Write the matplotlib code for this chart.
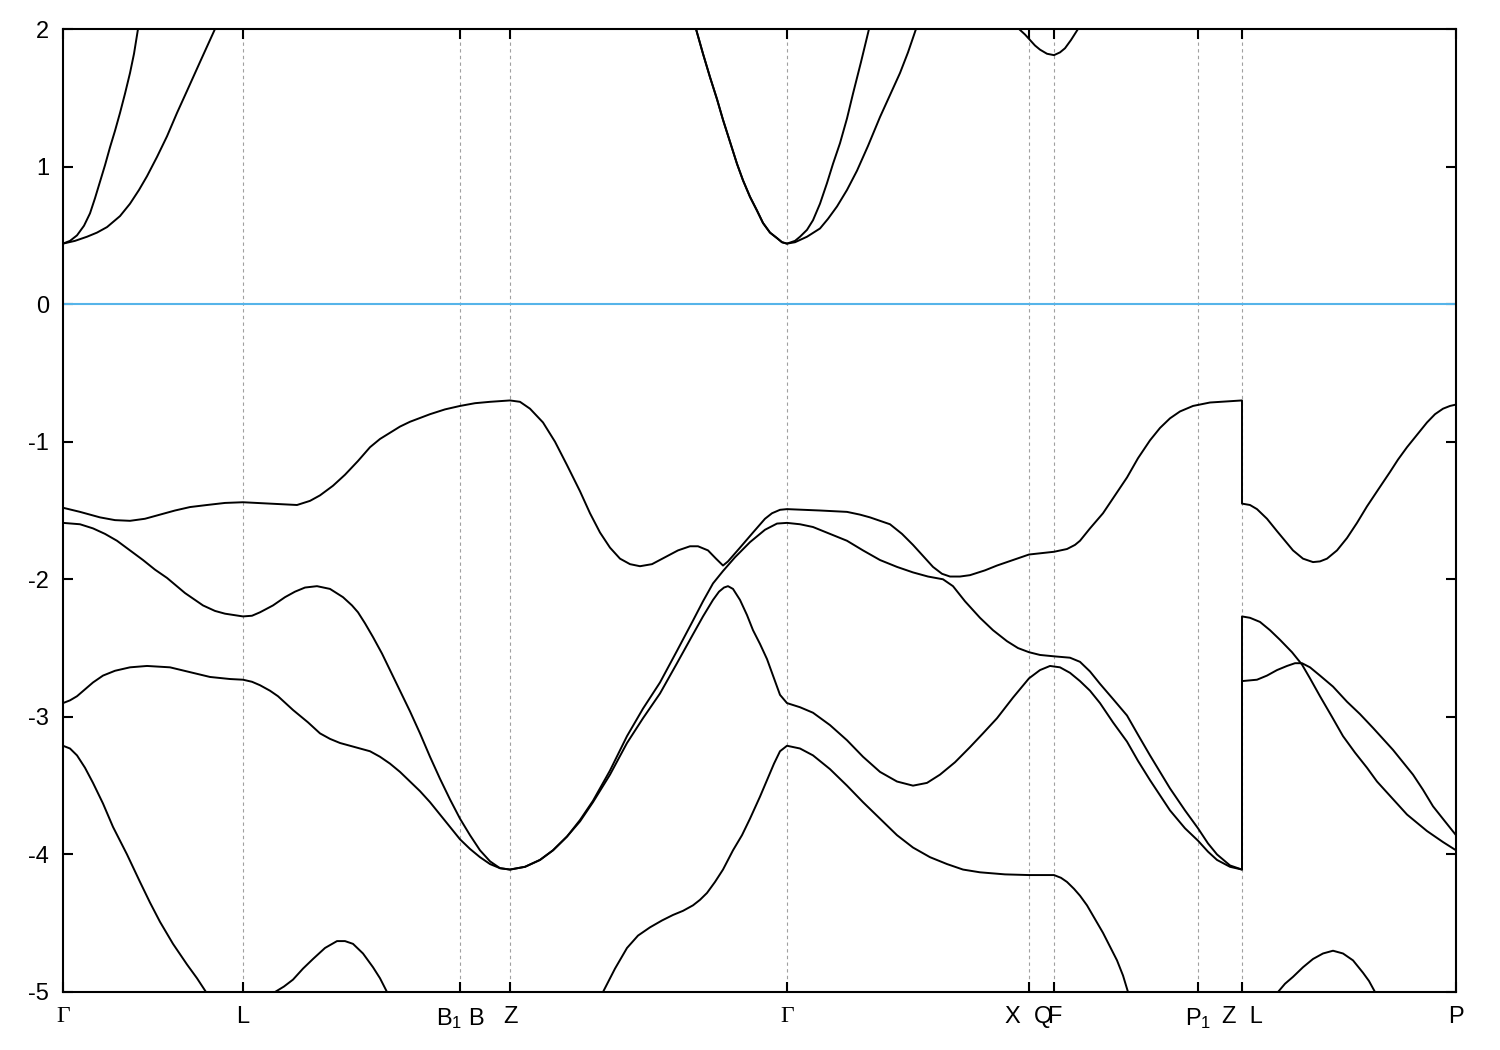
import matplotlib
matplotlib.use("Agg")
import matplotlib.pyplot as plt

plt.rcParams['font.family'] = ['Liberation Sans', 'DejaVu Sans']
plt.rcParams['mathtext.fontset'] = 'custom'
plt.rcParams['mathtext.rm'] = 'Liberation Sans'
plt.rcParams['mathtext.it'] = 'Liberation Sans:italic'
plt.rcParams['axes.unicode_minus'] = False

# k-path (arbitrary distance units) and high-symmetry labels
kticks = [0, 180, 397, 447, 724, 966, 991, 1135, 1179, 1393]
klabels = ['Γ', 'L', 'B$_1$ B', 'Z', 'Γ', 'X  Q', 'F', 'P$_1$', 'Z  L', 'P']

# valence bands, (k, E) pairs; two points at the same k mark a path break
band1 = [(0, -1.48), (17, -1.51), (37, -1.55), (52, -1.57), (67, -1.575), (82, -1.56),
         (97, -1.53), (112, -1.50), (127, -1.475), (144, -1.46), (162, -1.445), (180, -1.44),
         (207, -1.45), (234, -1.46), (247, -1.43), (257, -1.39), (270, -1.32), (282, -1.24),
         (295, -1.14), (307, -1.04), (317, -0.98), (327, -0.935), (337, -0.89), (347, -0.855),
         (367, -0.80), (382, -0.765), (397, -0.74), (412, -0.72), (427, -0.71), (447, -0.70),
         (457, -0.71), (467, -0.76), (480, -0.86), (492, -1.00), (504, -1.17), (517, -1.36),
         (527, -1.52), (537, -1.66), (547, -1.77), (557, -1.85), (567, -1.89), (577, -1.905),
         (589, -1.89), (602, -1.84), (615, -1.79), (627, -1.76), (635, -1.76), (645, -1.79),
         (653, -1.85), (660, -1.90), (665, -1.87), (677, -1.77), (690, -1.66), (702, -1.56),
         (709, -1.52), (717, -1.495), (724, -1.49), (757, -1.50), (784, -1.51), (797, -1.53),
         (807, -1.55), (817, -1.575), (827, -1.60), (839, -1.67), (850, -1.75), (860, -1.83),
         (870, -1.91), (879, -1.96), (887, -1.98), (897, -1.98), (907, -1.97), (922, -1.935),
         (934, -1.90), (950, -1.86), (966, -1.82), (991, -1.80), (1004, -1.78), (1012, -1.75),
         (1017, -1.72), (1027, -1.63), (1040, -1.52), (1052, -1.39), (1064, -1.26), (1075, -1.12),
         (1087, -0.99), (1097, -0.90), (1107, -0.83), (1117, -0.78), (1130, -0.74), (1147, -0.715),
         (1179, -0.70), (1179, -1.45), (1187, -1.46), (1194, -1.49), (1204, -1.56), (1214, -1.65),
         (1222, -1.72), (1230, -1.79), (1240, -1.85), (1250, -1.875), (1257, -1.87), (1264, -1.85),
         (1274, -1.79), (1284, -1.70), (1294, -1.59), (1304, -1.47), (1315, -1.35), (1327, -1.22),
         (1335, -1.13), (1344, -1.04), (1354, -0.95), (1364, -0.86), (1372, -0.80), (1380, -0.76),
         (1387, -0.74), (1393, -0.73)]

band2 = [(0, -1.59), (17, -1.60), (30, -1.63), (42, -1.67), (54, -1.72), (67, -1.79),
         (80, -1.86), (92, -1.93), (104, -1.99), (122, -2.10), (140, -2.19), (152, -2.23),
         (162, -2.25), (180, -2.27), (189, -2.265), (197, -2.24), (210, -2.19), (222, -2.13),
         (232, -2.09), (242, -2.06), (254, -2.05), (267, -2.07), (280, -2.13), (289, -2.19),
         (295, -2.24), (302, -2.32), (310, -2.42), (319, -2.54), (327, -2.66), (337, -2.81),
         (347, -2.96), (357, -3.12), (367, -3.29), (377, -3.45), (387, -3.60), (397, -3.74),
         (407, -3.86), (417, -3.97), (427, -4.05), (437, -4.10), (447, -4.11), (462, -4.09),
         (477, -4.04), (490, -3.97), (504, -3.87), (517, -3.75), (530, -3.61), (547, -3.39),
         (564, -3.14), (580, -2.94), (597, -2.75), (614, -2.52), (630, -2.30), (640, -2.16),
         (650, -2.03), (660, -1.94), (672, -1.84), (687, -1.73), (702, -1.64), (714, -1.595),
         (724, -1.59), (737, -1.60), (750, -1.62), (767, -1.67), (784, -1.72), (800, -1.79),
         (817, -1.86), (834, -1.91), (850, -1.95), (865, -1.98), (880, -2.00), (890, -2.05),
         (902, -2.16), (917, -2.28), (930, -2.37), (944, -2.45), (955, -2.50), (966, -2.53),
         (977, -2.55), (991, -2.56), (1007, -2.57), (1017, -2.60), (1027, -2.67), (1037, -2.76),
         (1050, -2.87), (1064, -2.99), (1075, -3.13), (1087, -3.28), (1097, -3.40), (1107, -3.52),
         (1122, -3.68), (1135, -3.81), (1145, -3.92), (1154, -4.00), (1167, -4.08), (1179, -4.11),
         (1179, -2.27), (1187, -2.28), (1197, -2.31), (1207, -2.37), (1217, -2.44), (1229, -2.53),
         (1239, -2.62), (1247, -2.72), (1257, -2.85), (1269, -3.00), (1280, -3.14), (1292, -3.26),
         (1304, -3.37), (1314, -3.47), (1324, -3.55), (1334, -3.63), (1344, -3.71), (1354, -3.77),
         (1364, -3.83), (1380, -3.91), (1393, -3.97)]

band3 = [(0, -2.90), (7, -2.88), (14, -2.85), (22, -2.80), (30, -2.75), (40, -2.70),
         (52, -2.665), (67, -2.64), (84, -2.63), (107, -2.64), (127, -2.675), (147, -2.71),
         (167, -2.725), (180, -2.73), (189, -2.745), (197, -2.77), (207, -2.81), (215, -2.85),
         (230, -2.95), (245, -3.04), (257, -3.12), (267, -3.16), (277, -3.19), (292, -3.22),
         (307, -3.25), (317, -3.29), (327, -3.34), (337, -3.40), (347, -3.47), (357, -3.54),
         (367, -3.62), (377, -3.71), (387, -3.80), (397, -3.89), (407, -3.96), (417, -4.02),
         (427, -4.07), (437, -4.10), (447, -4.11), (462, -4.09), (477, -4.04), (490, -3.97),
         (504, -3.87), (517, -3.76), (530, -3.62), (547, -3.42), (564, -3.19), (580, -3.01),
         (597, -2.83), (614, -2.61), (630, -2.40), (640, -2.27), (650, -2.15), (656, -2.09),
         (661, -2.06), (665, -2.05), (670, -2.07), (677, -2.15), (684, -2.26), (690, -2.37),
         (697, -2.47), (704, -2.58), (711, -2.72), (717, -2.84), (724, -2.90), (737, -2.93),
         (750, -2.97), (767, -3.06), (784, -3.17), (800, -3.29), (817, -3.40), (834, -3.47),
         (850, -3.50), (864, -3.48), (877, -3.42), (892, -3.33), (907, -3.22), (920, -3.12),
         (934, -3.01), (950, -2.86), (966, -2.72), (977, -2.66), (987, -2.63), (997, -2.64),
         (1007, -2.68), (1017, -2.74), (1027, -2.81), (1037, -2.90), (1050, -3.04), (1064, -3.18),
         (1075, -3.32), (1087, -3.46), (1097, -3.57), (1107, -3.68), (1122, -3.81), (1135, -3.90),
         (1145, -3.98), (1154, -4.04), (1167, -4.09), (1179, -4.11), (1179, -2.74), (1194, -2.73),
         (1204, -2.70), (1214, -2.66), (1224, -2.63), (1232, -2.61), (1239, -2.61), (1247, -2.64),
         (1257, -2.70), (1270, -2.78), (1284, -2.89), (1297, -2.98), (1310, -3.08), (1320, -3.16),
         (1330, -3.24), (1340, -3.33), (1350, -3.42), (1360, -3.53), (1370, -3.65), (1382, -3.76),
         (1393, -3.86)]

# lowest visible band, only the parts inside the window
band4a = [(0, -3.21), (7, -3.23), (14, -3.28), (22, -3.37), (30, -3.48), (40, -3.63),
          (50, -3.80), (57, -3.90), (64, -4.00), (77, -4.20), (87, -4.35), (97, -4.49),
          (110, -4.65), (124, -4.80), (134, -4.90), (143, -5.0)]
band4b = [(212, -5.0), (221, -4.96), (230, -4.91), (240, -4.83), (250, -4.76), (262, -4.68),
          (274, -4.63), (282, -4.63), (290, -4.65), (300, -4.72), (310, -4.82), (317, -4.90),
          (324, -5.0)]
band4c = [(540, -5.0), (552, -4.83), (564, -4.68), (575, -4.59), (587, -4.53), (599, -4.48),
          (610, -4.44), (620, -4.41), (630, -4.37), (637, -4.33), (644, -4.28), (652, -4.20),
          (660, -4.11), (670, -3.97), (679, -3.86), (687, -3.74), (697, -3.58), (704, -3.46),
          (711, -3.34), (717, -3.25), (724, -3.21), (737, -3.23), (750, -3.28), (767, -3.38),
          (784, -3.50), (800, -3.62), (817, -3.74), (834, -3.86), (850, -3.95), (867, -4.02),
          (884, -4.07), (900, -4.11), (917, -4.13), (942, -4.145), (966, -4.15), (991, -4.15),
          (998, -4.17), (1004, -4.20), (1011, -4.25), (1017, -4.30), (1024, -4.37), (1032, -4.47),
          (1040, -4.57), (1047, -4.67), (1054, -4.77), (1060, -4.88), (1065, -5.0)]
band4d = [(1215, -5.0), (1222, -4.94), (1230, -4.89), (1240, -4.82), (1250, -4.76),
          (1260, -4.72), (1270, -4.70), (1280, -4.72), (1290, -4.77), (1300, -4.86),
          (1306, -4.92), (1312, -5.0)]

# conduction bands (visible parts below E = 2)
cb1a = [(0, 0.44), (12, 0.46), (24, 0.49), (34, 0.52), (44, 0.56), (57, 0.64), (67, 0.73),
        (76, 0.83), (84, 0.93), (94, 1.07), (104, 1.22), (114, 1.39), (124, 1.55),
        (137, 1.76), (152, 2.0)]
cb2a = [(0, 0.44), (7, 0.46), (14, 0.50), (21, 0.57), (27, 0.66), (32, 0.77), (37, 0.89),
        (42, 1.01), (47, 1.14), (52, 1.26), (57, 1.39), (62, 1.53), (67, 1.68), (71, 1.82),
        (75, 2.0)]
cb_left = [(633, 2.0), (640, 1.82), (647, 1.65), (654, 1.49), (660, 1.34), (667, 1.18),
           (674, 1.02), (680, 0.90), (687, 0.78), (694, 0.68), (700, 0.59), (707, 0.52),
           (714, 0.48), (719, 0.45), (724, 0.44)]
cb1b = [(732, 0.45), (744, 0.49), (757, 0.55), (765, 0.62), (774, 0.71), (784, 0.83),
        (794, 0.97), (805, 1.15), (817, 1.36), (827, 1.52), (837, 1.68), (845, 1.83), (853, 2.0)]
cb2b = [(732, 0.46), (737, 0.49), (744, 0.54), (750, 0.61), (757, 0.73), (764, 0.88),
        (770, 1.02), (777, 1.17), (784, 1.35), (790, 1.53), (798, 1.76), (806, 2.0)]
cb3 = [(956, 2.0), (962, 1.96), (967, 1.92), (972, 1.88), (977, 1.85), (984, 1.82),
       (991, 1.81), (997, 1.83), (1002, 1.86), (1008, 1.92), (1015, 2.0)]

bands = [band1, band2, band3, band4a, band4b, band4c, band4d,
         cb1a, cb2a, cb_left + cb1b, cb_left + cb2b, cb3]

fig = plt.figure(figsize=(15, 10.5), dpi=100)
ax = fig.add_axes([63 / 1500, 1 - 992 / 1050, 1393 / 1500, 963 / 1050])

for k in kticks[1:-1]:
    ax.axvline(k, color='#a0a0a0', lw=0.8, ls=(0, (3, 3)), zorder=1)
ax.axhline(0, color='#56b4e9', lw=1.5, zorder=2)

for band in bands:
    ks, es = zip(*band)
    ax.plot(ks, es, color='black', lw=1.4, zorder=3, solid_joinstyle='round')

ax.set_xlim(kticks[0], kticks[-1])
ax.set_ylim(-5, 2)
ax.set_xticks(kticks)
ax.set_xticklabels(klabels)
for lab in ax.get_xticklabels():
    if lab.get_text() == 'Γ':
        lab.set_fontfamily('Liberation Serif')
ax.set_yticks(range(-5, 3))
ax.tick_params(direction='in', length=7, width=1.5, top=True, right=True,
               labelsize=17, pad=10)
for s in ax.spines.values():
    s.set_linewidth(1.5)

fig.savefig('out.png', dpi=100)
